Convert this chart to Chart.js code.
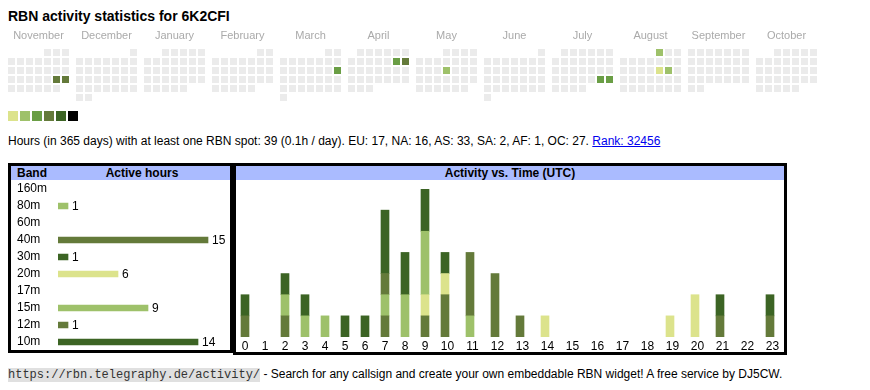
<!DOCTYPE html>
<html>
<head>
<meta charset="utf-8">
<title>RBN activity statistics for 6K2CFI</title>
<script src="https://cdn.jsdelivr.net/npm/chart.js@4.4.1/dist/chart.umd.min.js"></script>
<style>
body { margin: 0; background: #fff; color: #000; font-family: "Liberation Sans", Arial, sans-serif; }
div, canvas { position: absolute; }
#title { left: 8px; top: 8px; font-size: 14px; font-weight: bold; white-space: nowrap; }
.lvl { top: 111px; width: 10px; height: 10px; }
#summary { left: 8px; top: 134px; font-size: 12px; line-height: 14px; white-space: nowrap; }
#summary a { color: #00e; }
.box { border: 3px solid #000; box-sizing: border-box; z-index: 2; }
.head { background: #aabbff; font-size: 12px; font-weight: bold; height: 14px; line-height: 14px; white-space: nowrap; }
#footer { left: 8px; top: 367px; font-size: 12px; line-height: 14px; white-space: nowrap; }
#footer code { font-family: "Liberation Mono", monospace; font-size: 12px; background: #e0e0e0; color: #333; }
</style>
</head>
<body>
<div id="title">RBN activity statistics for 6K2CFI</div>
<canvas id="calendar" width="870" height="80" style="left:0;top:25px"></canvas>
<div id="legend"></div>
<div id="summary">Hours (in 365 days) with at least one RBN spot: 39 (0.1h / day). EU: 17, NA: 16, AS: 33, SA: 2, AF: 1, OC: 27. <a href="#">Rank: 32456</a></div>

<div class="head" style="left:11px;top:166px;width:219px"></div>
<div class="head" style="left:17px;top:166px">Band</div>
<div class="head" style="left:58px;top:166px;width:168px;text-align:center;background:none">Active hours</div>
<canvas id="bands" width="220" height="171" style="left:10px;top:180px"></canvas>
<div class="box" style="left:8px;top:163px;width:225px;height:190px"></div>

<div class="head" style="left:236px;top:166px;width:548px;text-align:center">Activity vs. Time (UTC)</div>
<canvas id="activity" width="550" height="174" style="left:235px;top:181px"></canvas>
<div class="box" style="left:233px;top:163px;width:554px;height:192px"></div>

<div id="footer"><code>https://rbn.telegraphy.de/activity/</code> - Search for any callsign and create your own embeddable RBN widget! A free service by DJ5CW.</div>

<script>
// calendar: Nov 2024 .. Oct 2025, one block per month, one row per week
const monthNames = ['November', 'December', 'January', 'February', 'March', 'April', 'May', 'June', 'July', 'August', 'September', 'October'];
const firstYear = 2024, firstMonth = 10;
const activeDays = ['2024-11-23', '2024-11-24', '2025-03-16', '2025-04-12', '2025-04-13', '2025-05-15', '2025-07-26', '2025-07-27', '2025-08-01', '2025-08-15', '2025-08-16'];
const activeLevels = [4, 4, 3, 3, 4, 2, 3, 3, 2, 1, 2];
const todayDate = '2025-10-15';
const levelColors = ['#dce38c', '#9ec16a', '#6a9e45', '#647a3a', '#3c6424', '#000000'];
const emptyColor = '#ebebeb';

// bands
const bands = ['160m', '80m', '60m', '40m', '30m', '20m', '17m', '15m', '12m', '10m'];
const bandHours = [0, 1, 0, 15, 1, 6, 0, 9, 1, 14];
const bandColors = ['#000000', '#9ec16a', '#6a9e45', '#647a3a', '#3c6424', '#dce38c', '#6a9e45', '#9ec16a', '#647a3a', '#3c6424'];

// active hours per UTC hour, per band
const hourLabels = ['0', '1', '2', '3', '4', '5', '6', '7', '8', '9', '10', '11', '12', '13', '14', '15', '16', '17', '18', '19', '20', '21', '22', '23'];
const h160 = [0, 0, 0, 0, 0, 0, 0, 0, 0, 0, 0, 0, 0, 0, 0, 0, 0, 0, 0, 0, 0, 0, 0, 0];
const h80  = [0, 0, 0, 0, 0, 0, 0, 0, 0, 0, 0, 1, 0, 0, 0, 0, 0, 0, 0, 0, 0, 0, 0, 0];
const h60  = [0, 0, 0, 0, 0, 0, 0, 0, 0, 0, 0, 0, 0, 0, 0, 0, 0, 0, 0, 0, 0, 0, 0, 0];
const h40  = [1, 0, 1, 0, 0, 0, 0, 1, 0, 1, 2, 3, 3, 1, 0, 0, 0, 0, 0, 0, 0, 1, 0, 1];
const h30  = [1, 0, 0, 0, 0, 0, 0, 0, 0, 0, 0, 0, 0, 0, 0, 0, 0, 0, 0, 0, 0, 0, 0, 0];
const h20  = [0, 0, 0, 0, 0, 0, 0, 0, 0, 1, 1, 0, 0, 0, 1, 0, 0, 0, 0, 1, 2, 0, 0, 0];
const h17  = [0, 0, 0, 0, 0, 0, 0, 0, 0, 0, 0, 0, 0, 0, 0, 0, 0, 0, 0, 0, 0, 0, 0, 0];
const h15  = [0, 0, 1, 1, 1, 0, 0, 1, 2, 3, 0, 0, 0, 0, 0, 0, 0, 0, 0, 0, 0, 0, 0, 0];
const h12  = [0, 0, 0, 0, 0, 0, 0, 1, 0, 0, 0, 0, 0, 0, 0, 0, 0, 0, 0, 0, 0, 0, 0, 0];
const h10  = [0, 0, 1, 1, 0, 1, 1, 3, 2, 2, 1, 0, 0, 0, 0, 0, 0, 0, 0, 0, 0, 1, 0, 1];
const hourlySeries = [h160, h80, h60, h40, h30, h20, h17, h15, h12, h10];

const FONT = '"Liberation Sans", Arial, sans-serif';
Chart.defaults.font.family = FONT;
Chart.defaults.animation = false;

// legend squares
levelColors.forEach((c, i) => {
    const d = document.createElement('div');
    d.className = 'lvl';
    d.style.left = (8 + 12 * i) + 'px';
    d.style.background = c;
    document.getElementById('legend').appendChild(d);
});

// calendar cells (scale units = px inside the canvas)
const CELL = 9, BLOCK = 68, LEFT = 8, TOP = 24;
const pad2 = n => String(n).padStart(2, '0');
const cells = [], cellColors = [];
let todayCell = null;
for (let m = 0; m < monthNames.length; m++) {
    const yr = firstYear + Math.floor((firstMonth + m) / 12), mo = (firstMonth + m) % 12;
    const nDays = new Date(Date.UTC(yr, mo + 1, 0)).getUTCDate();
    const lead = (new Date(Date.UTC(yr, mo, 1)).getUTCDay() + 6) % 7;
    for (let d = 1; d <= nDays; d++) {
        const k = lead + d - 1;
        const key = yr + '-' + pad2(mo + 1) + '-' + pad2(d);
        const pt = { x: LEFT + m * BLOCK + (k % 7) * CELL + 3.5, y: TOP + Math.floor(k / 7) * CELL + 3.5 };
        const a = activeDays.indexOf(key);
        cells.push(pt);
        cellColors.push(a >= 0 ? levelColors[activeLevels[a] - 1] : emptyColor);
        if (key === todayDate) todayCell = pt;
    }
}

const monthLabels = {
    id: 'monthLabels',
    afterDraw(chart) {
        const { ctx, scales: { x, y } } = chart;
        ctx.save();
        ctx.font = '11px ' + FONT;
        ctx.fillStyle = '#aaa';
        ctx.textAlign = 'center';
        monthNames.forEach((name, m) => {
            ctx.fillText(name, x.getPixelForValue(LEFT + m * BLOCK + 3 * CELL + 3.5), y.getPixelForValue(14));
        });
        ctx.restore();
    }
};

new Chart(document.getElementById('calendar'), {
    type: 'scatter',
    data: {
        datasets: [
            { data: cells, pointStyle: 'rect', pointRadius: 4.95, pointBorderWidth: 0, pointBackgroundColor: cellColors },
            { data: [todayCell], pointStyle: 'rect', pointRadius: 4.243, pointBorderWidth: 1, pointBorderColor: '#e00000', pointBackgroundColor: '#ffffff' }
        ]
    },
    options: {
        responsive: false,
        events: [],
        layout: { padding: 0, autoPadding: false },
        scales: {
            x: { display: false, type: 'linear', min: 0, max: 870 },
            y: { display: false, type: 'linear', min: 0, max: 80, reverse: true }
        },
        plugins: { legend: { display: false }, tooltip: { enabled: false } }
    },
    plugins: [monthLabels]
});

// band chart
const valueLabels = {
    id: 'valueLabels',
    afterDatasetsDraw(chart) {
        const { ctx } = chart;
        ctx.save();
        ctx.font = '12px ' + FONT;
        ctx.fillStyle = '#000';
        ctx.textBaseline = 'middle';
        chart.getDatasetMeta(0).data.forEach((bar, i) => {
            if (bandHours[i]) ctx.fillText(bandHours[i], bar.x + 4, bar.y + 0.5);
        });
        ctx.restore();
    }
};

new Chart(document.getElementById('bands'), {
    type: 'bar',
    data: {
        labels: bands,
        datasets: [{ data: bandHours.map(v => v || null), backgroundColor: bandColors, barThickness: 6 }]
    },
    options: {
        indexAxis: 'y',
        responsive: false,
        events: [],
        layout: { padding: { left: 7, right: 12, top: 0.5, bottom: 0.5 }, autoPadding: false },
        scales: {
            x: { display: false, min: 0, max: 16 },
            y: {
                grid: { display: false, drawTicks: false },
                border: { display: false },
                ticks: { autoSkip: false, crossAlign: 'far', padding: 0, color: '#000', font: { size: 12 } },
                afterFit(s) { s.width = 41; s.paddingTop = 0; s.paddingBottom = 0; }
            }
        },
        plugins: { legend: { display: false }, tooltip: { enabled: false } }
    },
    plugins: [valueLabels]
});

// activity chart: table-like columns, two-digit hours get wider columns
const colWidths = hourLabels.map(l => l.length === 1 ? 20 : 25);
const colLefts = colWidths.map((w, i) => colWidths.slice(0, i).reduce((a, b) => a + b, 0));
const totalWidth = colWidths.reduce((a, b) => a + b, 0);
const barPos = colLefts.map(l => l + 10);
const tickPos = colLefts.map((l, i) => l + colWidths[i] / 2);
const stackTotals = hourLabels.map((_, i) => hourlySeries.reduce((s, arr) => s + arr[i], 0));

new Chart(document.getElementById('activity'), {
    type: 'bar',
    data: {
        datasets: bands.map((b, k) => ({
            label: b,
            data: hourlySeries[k].map((v, i) => ({ x: barPos[i], y: v || null })),
            backgroundColor: bandColors[k],
            barThickness: 8
        }))
    },
    options: {
        responsive: false,
        events: [],
        layout: { padding: { top: 8 }, autoPadding: false },
        scales: {
            x: {
                type: 'linear', stacked: true, offset: false, min: 0, max: totalWidth,
                grid: { display: false, drawTicks: false },
                border: { display: false },
                ticks: {
                    autoSkip: false, maxRotation: 0, padding: 2, color: '#000', font: { size: 12 },
                    callback: (v, i) => hourLabels[i]
                },
                afterBuildTicks(s) { s.ticks = tickPos.map(v => ({ value: v })); },
                afterFit(s) { s.height = 18; }
            },
            y: { display: false, stacked: true, min: 0, max: Math.max(...stackTotals) }
        },
        plugins: { legend: { display: false }, tooltip: { enabled: false } }
    }
});
</script>
</body>
</html>
